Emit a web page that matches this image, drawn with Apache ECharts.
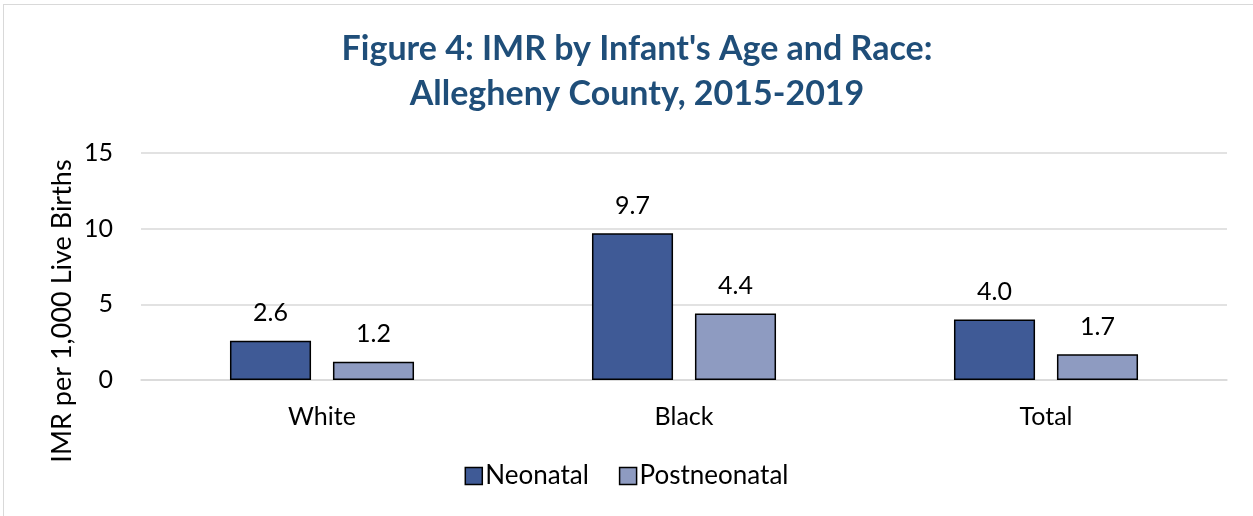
<!DOCTYPE html>
<html>
<head>
<meta charset="utf-8">
<script src="https://cdn.jsdelivr.net/npm/echarts@6/dist/echarts.min.js"></script>
<style>
  html, body { margin: 0; padding: 0; background: #fff; }
  #frame { position: absolute; left: 3px; top: 4px; width: 1260px; height: 520px; border: 1px solid #d9d9d9; box-sizing: border-box; }
  #chart { position: absolute; left: 0; top: 0; width: 1253px; height: 516px; }
</style>
</head>
<body>
<div id="frame"></div>
<div id="chart"></div>
<script>
const categories = ['White', 'Black', 'Total']
const neonatal = [2.6, 9.7, 4.0]
const postneonatal = [1.2, 4.4, 1.7]
const yTicks = { min: 0, max: 15, interval: 5 }
const yName = 'IMR per 1,000 Live Births'

const font = 'Lato, "Open Sans", sans-serif'
const chart = echarts.init(document.getElementById('chart'))

const barStyle = color => ({ color : color, borderColor : '#000', borderWidth : 1.5 })
const valueLabel = {
    show : true,
    position : 'top',
    distance : 15,
    formatter : p => p.value.toFixed(1),
    fontFamily : font,
    fontSize : 25,
    color : '#000'
}

chart.setOption({
    animation : false,
    title : {
        text : "Figure 4: IMR by Infant's Age and Race:\nAllegheny County, 2015-2019",
        left : 632,
        textAlign : 'center',
        top : 22,
        textStyle : {
            fontFamily : font,
            fontWeight : 'bold',
            fontSize : 34,
            lineHeight : 45,
            color : '#1F4E79'
        }
    },
    // y axis title sits lower than the plot centre in the original, so draw it by hand
    graphic : [{
        type : 'text',
        x : 62,
        y : 311,
        rotation : Math.PI / 2,
        style : {
            text : yName,
            fontFamily : font,
            fontSize : 27,
            fill : '#000',
            align : 'center',
            verticalAlign : 'middle'
        }
    }],
    legend : {
        bottom : 22,
        left : 'center',
        icon : 'rect',
        itemWidth : 17,
        itemHeight : 17,
        itemGap : 30,
        selectedMode : false,
        textStyle : { fontFamily : font, fontSize : 26, color : '#000', padding : [0, 0, 0, -2] },
        data : [
            { name : 'Neonatal', itemStyle : barStyle('#3F5A96') },
            { name : 'Postneonatal', itemStyle : barStyle('#8E9BC1') }
        ]
    },
    grid : { left : 141, right : 26, top : 153, bottom : 136, containLabel : false },
    xAxis : {
        type : 'category',
        data : categories,
        axisLine : { show : true, lineStyle : { color : '#d9d9d9', width : 1.5 } },
        axisTick : { show : false },
        axisLabel : { fontFamily : font, fontSize : 25, color : '#000', margin : 24 }
    },
    yAxis : {
        type : 'value',
        min : yTicks.min,
        max : yTicks.max,
        interval : yTicks.interval,
        axisLine : { show : false },
        axisTick : { show : false },
        axisLabel : { fontFamily : font, fontSize : 25, color : '#000', margin : 28 },
        splitLine : { lineStyle : { color : '#d9d9d9', width : 1.5 } }
    },
    series : [
        {
            name : 'Neonatal',
            type : 'bar',
            data : neonatal,
            barWidth : '22.4%',
            barGap : '27%',
            itemStyle : barStyle('#3F5A96'),
            label : valueLabel
        },
        {
            name : 'Postneonatal',
            type : 'bar',
            data : postneonatal,
            barWidth : '22.4%',
            itemStyle : barStyle('#8E9BC1'),
            label : valueLabel
        }
    ]
})
</script>
</body>
</html>
